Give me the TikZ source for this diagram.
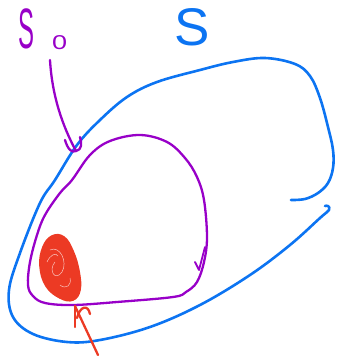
\documentclass[tikz,border=0pt]{standalone}
\usepackage{fontspec}
\setmainfont{Liberation Sans}
\definecolor{skyblue}{RGB}{12,116,242}
\definecolor{violetp}{RGB}{152,0,200}
\definecolor{redink}{RGB}{236,58,36}
\tikzset{
  ink/.style={line width=2.6pt, line cap=round, line join=round},
  blueink/.style={ink, draw=skyblue},
  purpleink/.style={ink, draw=violetp, line width=2.3pt},
  redinkline/.style={ink, draw=redink, line width=2.3pt},
  lbl/.style={inner sep=0pt, outer sep=0pt, anchor=base west}
}
\begin{document}
\begin{tikzpicture}[x=1pt,y=-1pt]
\useasboundingbox (0,0) rectangle (337,356);
% labels
\node[lbl, text=skyblue, font=\fontsize{53}{53}\selectfont] (slabel) at (174,45) {S};
\node[lbl, text=violetp, font=\fontsize{57}{57}\selectfont] (s0label) at (18,48) {\scalebox{0.42}[1]{S}};
\node[lbl, text=violetp, font=\fontsize{20}{20}\selectfont] (zero) at (52,49) {\scalebox{1.35}[1]{0}};
% blue region S
\draw[blueink] plot[smooth, tension=0.6] coordinates {
 (291,200) (305,199) (318,193) (328,183) (333,168) (333,150) (328,127) (320,98)
 (310,76) (295,64) (265,58) (233,62) (200,70) (157,82) (127,97) (100,120) (77,145)
 (55,180) (40,203) (20,253) (9,290) (13,317) (33,334) (67,342) (100,340) (150,327)
 (200,305) (250,275) (290,245) (320,218) (329,210) (328,206) (325,206)};
% purple loop
\draw[purpleink] plot[smooth cycle, tension=0.6] coordinates {
 (72,180) (90,155) (110,141) (140,135) (167,142) (185,158) (197,177) (204,200)
 (207,237) (204,262) (197,282) (186,292) (173,297) (117,302) (73,305) (45,303)
 (33,296) (28,285) (30,262) (37,235) (45,215) (60,193)};
% small direction tip on loop
\draw[purpleink, line width=1.8pt] (205,247) -- (199,270) -- (195,262);
% arrow from S0 label
\coordinate (s0tip) at (76,151);
\draw[purpleink] (50,60) .. controls (52,95) and (62,125) .. (s0tip);
\draw[purpleink] (65,140) .. controls (68,150) and (72,153) .. (s0tip)
  .. controls (82,150) and (82,143) .. (80,137);
% red fixed point scribble
\fill[redink] plot[smooth cycle, tension=0.7] coordinates {
 (52,236) (64,237) (73,251) (79,271) (80,290) (73,300) (60,298) (46,286) (40,266) (43,247)};
\draw[redinkline, line width=1.6pt] plot[smooth cycle, tension=0.7] coordinates {
 (52,236) (64,237) (73,251) (79,271) (80,290) (73,300) (60,298) (46,286) (40,266) (43,247)};
\draw[white, line width=0.5pt, opacity=0.7] (50,250) .. controls (60,245) and (68,262) .. (62,272)
  .. controls (55,282) and (48,270) .. (55,262) (60,285) .. controls (66,290) and (72,285) .. (70,278)
  (47,262) .. controls (50,255) and (56,252) .. (58,256);
% red arrow
\coordinate (redtip) at (75,306);
\draw[redinkline] (98,355) -- (redtip);
\draw[redinkline] (75,327) -- (redtip);
\draw[redinkline] (77,318) .. controls (80,306) and (88,304) .. (90,314);
\end{tikzpicture}
\end{document}
